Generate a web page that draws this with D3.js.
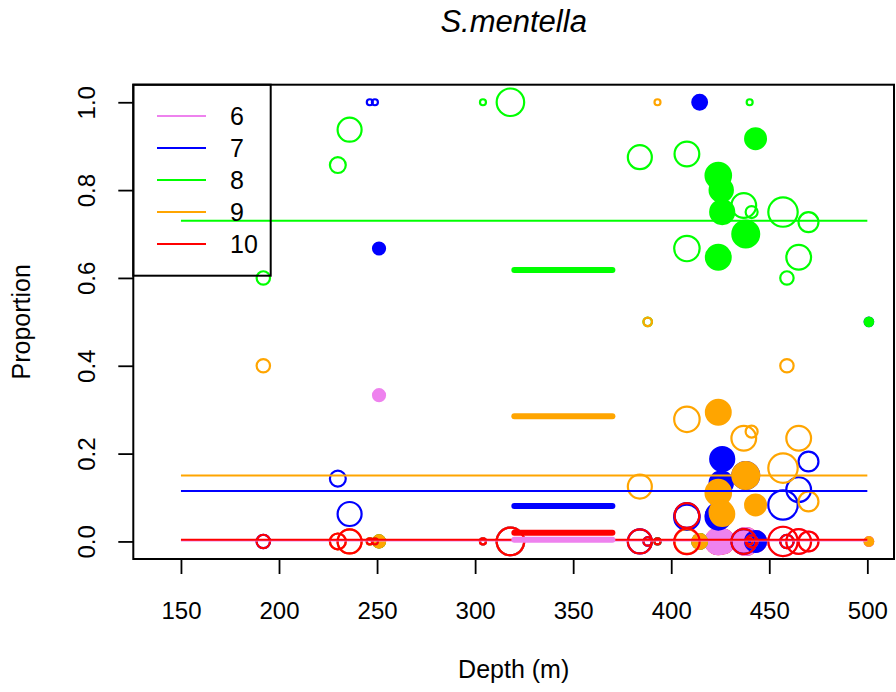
<!DOCTYPE html>
<html>
<head>
<meta charset="utf-8">
<script src="https://cdn.jsdelivr.net/npm/d3@7"></script>
<style>
  body { margin: 0; background: #fff; }
  text { font-family: "Liberation Sans", Arial, sans-serif; fill: #000; }
</style>
</head>
<body>
<div id="chart"></div>
<script>

// age groups and their colours
var ages = [6, 7, 8, 9, 10]
var ageColours = ["#EE82EE", "#0000FF", "#00FF00", "#FFA500", "#FF0000"]

// one entry per station: depth (m), fish measured, filled symbol or not
var depth  = [192, 230, 236, 246.3, 248.9, 304, 318, 384, 388, 393, 408, 408, 437, 440, 441, 457, 459, 465, 470,
              251, 414.5, 424, 424, 425.5, 426, 438, 443, 500.8]
var nFish  = [5, 7, 16, 1, 1, 1, 21, 16, 2, 1, 17, 18, 17, 1, 4, 24, 5, 17, 11,
              4, 6, 17, 18, 15, 16, 20, 12, 2]
var filled = [0, 0, 0, 0, 0, 0, 0, 0, 0, 0, 0, 0, 0, 0, 0, 0, 0, 0, 0,
              1, 1, 1, 1, 1, 1, 1, 1, 1]

// proportion of each age at each station
var p6  = [0, 0, 0, 0, 0, 0, 0, 0, 0, 0, 0, 0, 0, 0, 0, 0, 0, 0, 0,
           0.333, 0, 0, 0, 0, 0, 0, 0, 0]
var p7  = [0, 0.143, 0.0625, 1, 1, 0, 0, 0, 0, 0, 0.059, 0.055, 0, 0, 0, 0.083, 0, 0.118, 0.182,
           0.667, 1, 0.059, 0.056, 0.133, 0.1875, 0.15, 0, 0.5]
var p8  = [0.6, 0.857, 0.9375, 0, 0, 1, 1, 0.875, 0.5, 0, 0.882, 0.667, 0.765, 1, 0.75, 0.75, 0.6, 0.647, 0.727,
           0, 0, 0.647, 0.833, 0.8, 0.75, 0.7, 0.917, 0.5]
var p9  = [0.4, 0, 0, 0, 0, 0, 0, 0.125, 0.5, 1, 0, 0.278, 0.235, 0, 0.25, 0.167, 0.4, 0.235, 0.091,
           0, 0, 0.294, 0.111, 0.067, 0.0625, 0.15, 0.083, 0]
var p10 = [0, 0, 0, 0, 0, 0, 0, 0, 0, 0, 0.059, 0, 0, 0, 0, 0, 0, 0, 0,
           0, 0, 0, 0, 0, 0, 0, 0, 0]

// mean proportions: all depths (thin lines) and the 320-370 m band (thick lines)
var overallRange = [150, 500]
var overallMean  = [0.002, 0.115, 0.730, 0.150, 0.004]
var bandRange    = [320, 370]
var bandMean     = [0.004, 0.0805, 0.618, 0.285, 0.020]

var xTicks = [150, 200, 250, 300, 350, 400, 450, 500]
var yTicks = [0, 0.2, 0.4, 0.6, 0.8, 1.0]

var width = 896, height = 692
var plotL = 133.3, plotR = 894, plotT = 84.7, plotB = 559

var svg = d3.select("#chart")
            .append("svg")
            .attr("width", width)
            .attr("height", height)

var x = d3.scaleLinear().domain([125.7, 513.6]).range([plotL, plotR])
var y = d3.scaleLinear().domain([-0.04, 1.04]).range([plotB, plotT])
var r = d3.scaleSqrt().domain([0, 25]).range([0, 15])

var props = [p6, p7, p8, p9, p10]

// filled stations first (age 10 under the rest), then open ones
var layers = [
    {filled: 1, order: [4, 0, 1, 2, 3]},
    {filled: 0, order: [0, 1, 2, 3, 4]}
]
var pts = []
layers.forEach(function(l)
    {
        l.order.forEach(function(a)
            {
                depth.forEach(function(d, i)
                    {
                        if (filled[i] == l.filled)
                            pts.push({depth: d, value: props[a][i], n: nFish[i], filled: l.filled, colour: ageColours[a]})
                    })
            })
    })

svg.append("g")
    .selectAll("circle")
    .data(pts)
    .enter()
    .append("circle")
    .attr("cx", function(d) { return x(d.depth) })
    .attr("cy", function(d) { return y(d.value) })
    .attr("r", function(d) { return r(d.n) })
    .style("fill", function(d) { return d.filled ? d.colour : "none" })
    .style("stroke", function(d) { return d.colour })
    .style("stroke-width", 2.2)

// thin mean lines
svg.append("g")
    .selectAll("line")
    .data(overallMean)
    .enter()
    .append("line")
    .attr("x1", x(overallRange[0]))
    .attr("x2", x(overallRange[1]))
    .attr("y1", function(d) { return y(d) })
    .attr("y2", function(d) { return y(d) })
    .style("stroke", function(d, i) { return ageColours[i] })
    .style("stroke-width", 2)

// thick band lines
svg.append("g")
    .selectAll("line")
    .data(bandMean)
    .enter()
    .append("line")
    .attr("x1", x(bandRange[0]))
    .attr("x2", x(bandRange[1]))
    .attr("y1", function(d) { return y(d) })
    .attr("y2", function(d) { return y(d) })
    .style("stroke", function(d, i) { return ageColours[i] })
    .style("stroke-width", 6)
    .style("stroke-linecap", "round")

// axes
var xAxis = svg.append("g")
    .attr("transform", "translate(0," + plotB + ")")
    .call(d3.axisBottom(x).tickValues(xTicks).tickSize(15).tickSizeOuter(0))
xAxis.select(".domain").remove()
xAxis.selectAll("line").style("stroke-width", 1.8)
xAxis.selectAll("text")
    .attr("y", 60)
    .attr("dy", 0)
    .style("font-size", "24px")
    .style("font-family", "Liberation Sans, Arial, sans-serif")

var yAxis = svg.append("g")
    .attr("transform", "translate(" + plotL + ",0)")
    .call(d3.axisLeft(y).tickValues(yTicks).tickSize(15).tickFormat(d3.format(".1f")))
yAxis.select(".domain").remove()
yAxis.selectAll("line").style("stroke-width", 1.8)
yAxis.selectAll("text")
    .attr("x", 0)
    .attr("y", -38)
    .attr("dy", 0)
    .attr("transform", "rotate(-90)")
    .attr("text-anchor", "middle")
    .style("font-size", "24px")
    .style("font-family", "Liberation Sans, Arial, sans-serif")

// plot frame
svg.append("rect")
    .attr("x", plotL)
    .attr("y", plotT)
    .attr("width", plotR - plotL)
    .attr("height", plotB - plotT)
    .style("fill", "none")
    .style("stroke", "black")
    .style("stroke-width", 2)

// titles
svg.append("text")
    .attr("x", (plotL + plotR) / 2)
    .attr("y", 32)
    .attr("text-anchor", "middle")
    .style("font-size", "31px")
    .style("font-style", "italic")
    .text("S.mentella")

svg.append("text")
    .attr("x", (plotL + plotR) / 2)
    .attr("y", 678)
    .attr("text-anchor", "middle")
    .style("font-size", "25px")
    .text("Depth (m)")

svg.append("text")
    .attr("transform", "translate(30," + (plotT + plotB) / 2 + ") rotate(-90)")
    .attr("text-anchor", "middle")
    .style("font-size", "25px")
    .text("Proportion")

// legend
var legend = svg.append("g")
legend.append("rect")
    .attr("x", plotL)
    .attr("y", plotT)
    .attr("width", 137.4)
    .attr("height", 191)
    .style("fill", "none")
    .style("stroke", "black")
    .style("stroke-width", 2)

var items = legend.selectAll("g.item")
    .data(ages)
    .enter()
    .append("g")
    .attr("class", "item")
    .attr("transform", function(d, i) { return "translate(0," + (116 + i * 32) + ")" })
items.append("line")
    .attr("x1", 157)
    .attr("x2", 206)
    .style("stroke", function(d, i) { return ageColours[i] })
    .style("stroke-width", 2)
items.append("text")
    .attr("x", 230)
    .attr("y", 9)
    .style("font-size", "25px")
    .text(function(d) { return d })

</script>
</body>
</html>
